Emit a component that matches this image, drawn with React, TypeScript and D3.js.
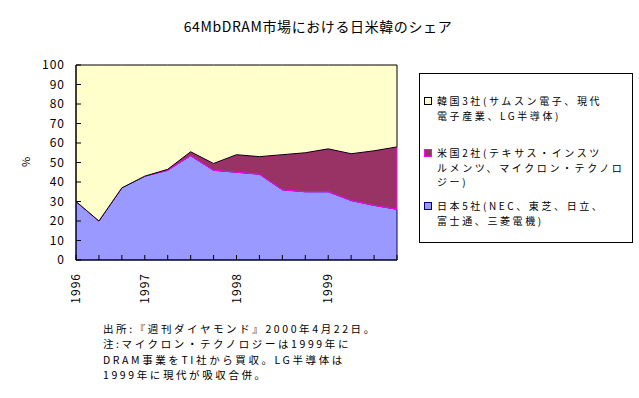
import { useEffect, useRef } from 'react'
import * as d3 from 'd3'

// quarterly points, 1996 .. 1999
const tickLabels = ['1996', '', '', '1997', '', '', '', '1998', '', '', '', '1999', '', '', '']
const japan = [30, 20, 37, 43, 46, 53.5, 46, 45, 44, 36, 35, 35, 30.5, 28, 26]
const usa = [0, 0, 0, 0, 0.5, 2, 3.5, 9, 9, 18, 20, 22, 24, 28, 32]
const korea = japan.map((j, i) => 100 - j - usa[i])

const seriesNames = ['japan', 'usa', 'korea']
const legendLines = [
  ['韓国3社(サムスン電子、現代', '電子産業、LG半導体)'],
  ['米国2社(テキサス・インスツ', 'ルメンツ、マイクロン・テクノロ', 'ジー)'],
  ['日本5社(NEC、東芝、日立、', '富士通、三菱電機)'],
]
const noteLines = [
  '出所:『週刊ダイヤモンド』2000年4月22日。',
  '注:マイクロン・テクノロジーは1999年に',
  'DRAM事業をTI社から買収。LG半導体は',
  '1999年に現代が吸収合併。',
]

const fill: Record<string, string> = { japan: '#9999ff', usa: '#993366', korea: '#ffffcc' }
const edge: Record<string, string> = { japan: '#000080', usa: '#ff00ff', korea: '#000000' }
const font = '"Noto Sans CJK JP", sans-serif'

export default () => {
  const rootRef = useRef<SVGSVGElement>(null)

  useEffect(() => {
    const svg = d3.select(rootRef.current)
    svg.selectAll('*').remove()

    const left = 76, right = 397, top = 65, bottom = 260

    const rows = tickLabels.map((_, i) => ({ idx: i, japan: japan[i], usa: usa[i], korea: korea[i] }))
    const stacked = d3.stack<any>().keys(seriesNames)(rows)

    const x = d3.scalePoint<number>().domain(rows.map((d) => d.idx)).range([left, right])
    const y = d3.scaleLinear().domain([0, 100]).range([bottom, top])

    const area = d3
      .area<any>()
      .x((d) => x(d.data.idx) as number)
      .y0((d) => y(d[0]))
      .y1((d) => y(d[1]))

    svg
      .append('g')
      .selectAll('path')
      .data(stacked)
      .join('path')
      .attr('d', area)
      .attr('fill', (s) => fill[s.key])
      .attr('stroke', (s) => edge[s.key])
      .attr('stroke-width', 1)

    // y axis
    const gy = svg.append('g').attr('transform', `translate(${left},0)`)
    gy.append('line').attr('x1', 0).attr('x2', 0).attr('y1', top).attr('y2', bottom).attr('stroke', '#000')
    const yTicks = d3.range(0, 101, 10)
    gy.selectAll('line.t')
      .data(yTicks)
      .join('line')
      .attr('class', 't')
      .attr('x1', 0)
      .attr('x2', 5)
      .attr('y1', (d) => y(d))
      .attr('y2', (d) => y(d))
      .attr('stroke', '#000')
    gy.selectAll('text')
      .data(yTicks)
      .join('text')
      .attr('x', -11)
      .attr('y', (d) => y(d))
      .attr('dy', '0.35em')
      .attr('text-anchor', 'end')
      .style('font', `12px ${font}`)
      .style('letter-spacing', '1px')
      .text((d) => d)

    // x axis
    const gx = svg.append('g').attr('transform', `translate(0,${bottom})`)
    gx.append('line').attr('x1', left).attr('x2', right).attr('stroke', '#000')
    gx.selectAll('line.t')
      .data(rows)
      .join('line')
      .attr('class', 't')
      .attr('x1', (d) => x(d.idx) as number)
      .attr('x2', (d) => x(d.idx) as number)
      .attr('y1', 0)
      .attr('y2', -5)
      .attr('stroke', '#000')
    gx.selectAll('text')
      .data(rows)
      .join('text')
      .attr('transform', (d) => `translate(${x(d.idx)},13) rotate(-90)`)
      .attr('dy', '0.35em')
      .attr('text-anchor', 'end')
      .style('font', `12px ${font}`)
      .style('letter-spacing', '1px')
      .text((d) => tickLabels[d.idx])

    svg
      .append('text')
      .attr('transform', 'translate(26,162) rotate(-90)')
      .attr('dy', '0.35em')
      .attr('text-anchor', 'middle')
      .style('font', `11px ${font}`)
      .text('%')

    // title
    svg
      .append('text')
      .attr('x', 318)
      .attr('y', 32)
      .attr('text-anchor', 'middle')
      .style('font', `14px ${font}`)
      .style('letter-spacing', '0.6px')
      .text('64MbDRAM市場における日米韓のシェア')

    // legend
    const lg = svg.append('g')
    lg.append('rect')
      .attr('x', 419.5)
      .attr('y', 73.5)
      .attr('width', 213)
      .attr('height', 169)
      .attr('fill', '#fff')
      .attr('stroke', '#000')
    const legendKeys = ['korea', 'usa', 'japan']
    const legendTop = [97, 149, 202]
    legendKeys.forEach((k, i) => {
      lg.append('rect')
        .attr('x', 424.5)
        .attr('y', legendTop[i] + 0.5)
        .attr('width', 7)
        .attr('height', 7)
        .attr('fill', fill[k])
        .attr('stroke', edge[k])
      lg.append('text')
        .attr('y', legendTop[i] + 8)
        .style('font', `10px ${font}`)
        .style('letter-spacing', '2.6px')
        .selectAll('tspan')
        .data(legendLines[i])
        .join('tspan')
        .attr('x', 437)
        .attr('dy', (_, j) => (j === 0 ? 0 : 14.6))
        .text((d) => d)
    })

    // source note
    svg
      .append('text')
      .attr('y', 333)
      .style('font', `10.5px ${font}`)
      .style('letter-spacing', '2.6px')
      .selectAll('tspan')
      .data(noteLines)
      .join('tspan')
      .attr('x', 103)
      .attr('dy', (_, i) => (i === 0 ? 0 : 15.4))
      .text((d) => d)
  }, [])

  return (
    <svg
      ref={rootRef}
      width={639}
      height={398}
      style={{ position: 'absolute', left: 0, top: 0, background: '#fff' }}
    ></svg>
  )
}
